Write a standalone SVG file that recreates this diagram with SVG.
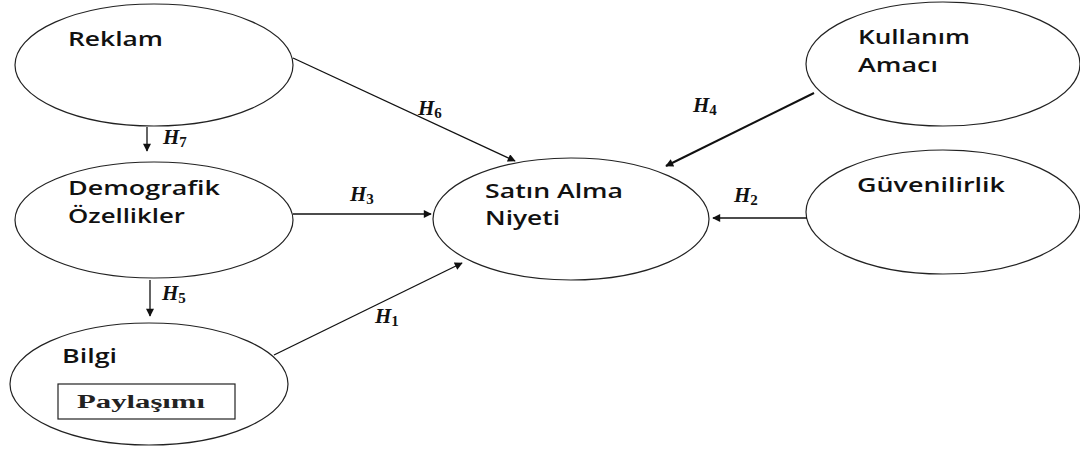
<svg xmlns="http://www.w3.org/2000/svg" width="1080" height="449" viewBox="0 0 1080 449">
<style>
.n{fill:#fff;stroke:#222;stroke-width:1.2}
.t{font-family:"Open Sans","Liberation Sans",sans-serif;font-size:19px;font-weight:600;fill:#111}
.c{stroke:#111;stroke-width:1.3;fill:none;marker-end:url(#a)}
.h{font-family:"Liberation Serif",serif;font-style:italic;font-weight:bold;font-size:21px;fill:#111}
.s{font-style:normal;font-size:15px}
</style>
<defs>
<marker id="a" viewBox="0 0 10 10" refX="9" refY="5" markerWidth="9" markerHeight="8" markerUnits="userSpaceOnUse" orient="auto">
<path d="M0,0 L10,5 L0,10 z" fill="#111"/>
</marker>
</defs>
<rect width="1080" height="449" fill="#fff"/>
<g id="reklam"><ellipse class="n" cx="154" cy="65" rx="139" ry="61"/><text class="t" x="68" y="46" textLength="95" lengthAdjust="spacingAndGlyphs">Reklam</text></g>
<g id="demografik"><ellipse class="n" cx="154" cy="220" rx="139" ry="58"/><text class="t" x="68" y="195" textLength="152" lengthAdjust="spacingAndGlyphs">Demografik</text><text class="t" x="68" y="223" textLength="117" lengthAdjust="spacingAndGlyphs">Özellikler</text></g>
<g id="bilgi"><ellipse class="n" cx="149" cy="384" rx="139" ry="61"/><text class="t" x="62" y="363" textLength="55" lengthAdjust="spacingAndGlyphs">Bilgi</text><rect x="58" y="384" width="177" height="35" fill="#fff" stroke="#222" stroke-width="1.2"/><text x="77" y="408" textLength="128" lengthAdjust="spacingAndGlyphs" font-family="Liberation Serif,serif" font-weight="bold" font-size="18" fill="#222">Paylaşımı</text></g>
<g id="satin"><ellipse class="n" cx="571" cy="219" rx="138" ry="61"/><text class="t" x="485" y="198" textLength="138" lengthAdjust="spacingAndGlyphs">Satın Alma</text><text class="t" x="485" y="225" textLength="75" lengthAdjust="spacingAndGlyphs">Niyeti</text></g>
<g id="kullanim"><ellipse class="n" cx="943" cy="64" rx="137" ry="62"/><text class="t" x="858" y="44" textLength="112" lengthAdjust="spacingAndGlyphs">Kullanım</text><text class="t" x="858" y="72" textLength="80" lengthAdjust="spacingAndGlyphs">Amacı</text></g>
<g id="guvenilirlik"><ellipse class="n" cx="943" cy="212" rx="137" ry="62"/><text class="t" x="857" y="192" textLength="148" lengthAdjust="spacingAndGlyphs">Güvenilirlik</text></g>
<g id="connectors">
<line class="c" x1="147" y1="127" x2="147" y2="151"/>
<line class="c" x1="150" y1="280" x2="150" y2="316"/>
<line class="c" x1="293" y1="58" x2="515" y2="161"/>
<line class="c" x1="293" y1="214" x2="431" y2="214"/>
<line class="c" x1="274" y1="355" x2="462" y2="263"/>
<line class="c" x1="814" y1="93" x2="666" y2="166" style="stroke-width:2"/>
<line class="c" x1="807" y1="218" x2="713" y2="218"/>
</g>
<g id="labels">
<text class="h" x="163" y="144">H<tspan class="s" dy="3">7</tspan></text>
<text class="h" x="162" y="300">H<tspan class="s" dy="3">5</tspan></text>
<text class="h" x="418" y="115">H<tspan class="s" dy="3">6</tspan></text>
<text class="h" x="350" y="201">H<tspan class="s" dy="3">3</tspan></text>
<text class="h" x="375" y="323">H<tspan class="s" dy="3">1</tspan></text>
<text class="h" x="693" y="112">H<tspan class="s" dy="3">4</tspan></text>
<text class="h" x="734" y="202">H<tspan class="s" dy="3">2</tspan></text>
</g>
</svg>
